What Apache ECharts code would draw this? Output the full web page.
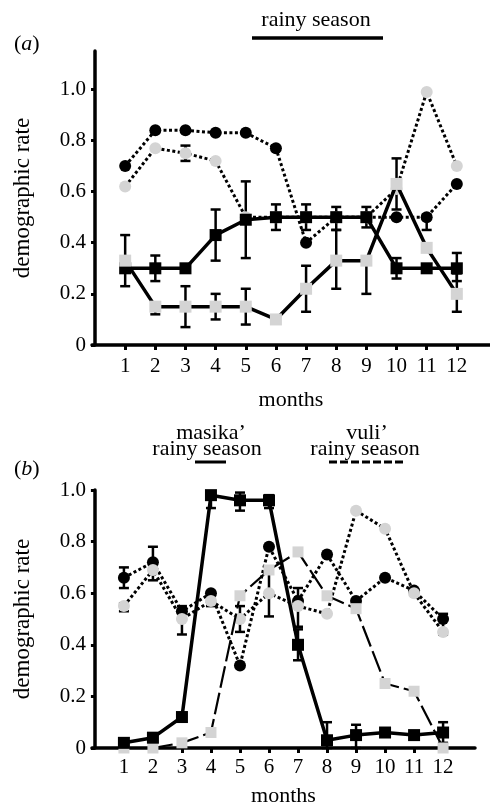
<!DOCTYPE html>
<html>
<head>
<meta charset="utf-8">
<script src="https://cdn.jsdelivr.net/npm/echarts@6/dist/echarts.min.js"></script>
<style>
  html, body { margin: 0; padding: 0; background: #fff; }
  #chart { width: 490px; height: 809px; }
</style>
</head>
<body>
<div id="chart"></div>
<script>
const months = [1, 2, 3, 4, 5, 6, 7, 8, 9, 10, 11, 12]
const yTicksA = [0, 0.2, 0.4, 0.6, 0.8, 1.0]
const yTicksB = [0, 0.2, 0.4, 0.6, 0.8, 1.0]

// panel (a)
const aBlackCircle = [0.70, 0.84, 0.84, 0.83, 0.83, 0.77, 0.40, 0.50, 0.50, 0.50, 0.50, 0.63]
const aGreyCircle = [0.62, 0.77, 0.75, 0.72, 0.50, 0.50, 0.50, 0.50, 0.50, 0.61, 0.99, 0.70]
const aBlackSquare = [0.30, 0.30, 0.30, 0.43, 0.49, 0.50, 0.50, 0.50, 0.50, 0.30, 0.30, 0.30]
const aGreySquare = [0.33, 0.15, 0.15, 0.15, 0.15, 0.10, 0.22, 0.33, 0.33, 0.63, 0.38, 0.20]
// error bars: [month, low, high]
const aErrors = [
  [1, 0.23, 0.43], [2, 0.25, 0.35], [4, 0.33, 0.53], [5, 0.34, 0.64], [6, 0.45, 0.55],
  [7, 0.45, 0.55], [8, 0.45, 0.54], [9, 0.46, 0.54], [10, 0.26, 0.34], [12, 0.25, 0.36],
  [2, 0.12, 0.15], [3, 0.07, 0.23], [4, 0.10, 0.20], [5, 0.08, 0.22], [7, 0.13, 0.31],
  [8, 0.22, 0.45], [9, 0.20, 0.33], [10, 0.53, 0.73], [12, 0.13, 0.28],
  [3, 0.72, 0.78], [11, 0.45, 0.51]
]

// panel (b)
const bBlackCircle = [0.66, 0.72, 0.53, 0.60, 0.32, 0.78, 0.57, 0.75, 0.57, 0.66, 0.61, 0.50]
const bGreyCircle = [0.55, 0.69, 0.50, 0.57, 0.50, 0.60, 0.55, 0.52, 0.92, 0.85, 0.60, 0.45]
const bBlackSquare = [0.02, 0.04, 0.12, 0.98, 0.96, 0.96, 0.40, 0.03, 0.05, 0.06, 0.05, 0.06]
const bGreySquare = [0.00, 0.00, 0.02, 0.06, 0.59, 0.69, 0.76, 0.59, 0.54, 0.25, 0.22, 0.00]
const bErrors = [
  [1, 0.62, 0.70], [2, 0.65, 0.78], [3, 0.44, 0.55], [4, 0.55, 0.60], [5, 0.45, 0.55],
  [6, 0.51, 0.69], [7, 0.47, 0.62], [12, 0.44, 0.52], [1, 0.53, 0.56],
  [4, 0.93, 0.99], [5, 0.92, 0.99], [6, 0.93, 0.98], [7, 0.34, 0.46],
  [8, 0.00, 0.10], [9, 0.00, 0.09], [10, 0.05, 0.07], [12, 0.02, 0.10]
]

const FONT = '"Liberation Serif", "DejaVu Serif", serif'
const GREY = '#d4d4d4'

const pairs = arr => arr.map((v, i) => [months[i], v])

const chart = echarts.init(document.getElementById('chart'))

const makeXAxis = (idx, labelMargin, nameGap) => ({
  gridIndex: idx,
  type: 'value',
  min: -0.1,
  max: 13.1,
  name: 'months',
  nameLocation: 'middle',
  nameGap: nameGap,
  nameTextStyle: { fontFamily: FONT, fontSize: 22, color: '#000' },
  axisLine: { onZero: false, lineStyle: { color: '#000', width: 3.5 } },
  axisTick: { show: true, customValues: months, length: 5, lineStyle: { color: '#000', width: 3 } },
  axisLabel: { customValues: months, margin: labelMargin, fontFamily: FONT, fontSize: 21, color: '#000' },
  splitLine: { show: false }
})

const makeYAxis = (idx, max, ticks) => ({
  gridIndex: idx,
  type: 'value',
  min: 0,
  max: max,
  name: 'demographic rate',
  nameLocation: 'middle',
  nameGap: 58,
  nameTextStyle: { fontFamily: FONT, fontSize: 23, color: '#000' },
  axisLine: { show: true, lineStyle: { color: '#000', width: 3.5 } },
  axisTick: { show: true, customValues: ticks, length: 4, lineStyle: { color: '#000', width: 3 } },
  axisLabel: {
    customValues: ticks,
    margin: 6,
    fontFamily: FONT,
    fontSize: 21,
    color: '#000',
    formatter: v => (v === 0 ? '0' : v.toFixed(1))
  },
  splitLine: { show: false }
})

const lineSeries = (idx, data, opts) => ({
  type: 'line',
  xAxisIndex: idx,
  yAxisIndex: idx,
  data: pairs(data),
  symbol: opts.symbol,
  symbolSize: opts.size || 12,
  itemStyle: { color: opts.color, borderWidth: 0 },
  lineStyle: { color: '#000', width: opts.width, type: opts.dash },
  z: opts.z,
  clip: false,
  animation: false
})

const errorSeries = (idx, data) => ({
  type: 'custom',
  xAxisIndex: idx,
  yAxisIndex: idx,
  data: data,
  z: 1,
  clip: false,
  animation: false,
  renderItem: (params, api) => {
    const lo = api.coord([api.value(0), api.value(1)])
    const hi = api.coord([api.value(0), api.value(2)])
    const w = 5
    const st = { stroke: '#000', lineWidth: 2.5 }
    return {
      type: 'group',
      children: [
        { type: 'line', shape: { x1: lo[0], y1: lo[1], x2: hi[0], y2: hi[1] }, style: st },
        { type: 'line', shape: { x1: lo[0] - w, y1: lo[1], x2: lo[0] + w, y2: lo[1] }, style: st },
        { type: 'line', shape: { x1: hi[0] - w, y1: hi[1], x2: hi[0] + w, y2: hi[1] }, style: st }
      ]
    }
  }
})

const label = (x, y, text) => ({
  type: 'text', x: x, y: y,
  style: { text: text, font: '22px ' + FONT, fill: '#000', align: 'center', verticalAlign: 'middle' }
})

const option = {
  backgroundColor: '#fff',
  animation: false,
  grid: [
    { left: 92, right: 0, top: 51, bottom: 464 },
    { left: 92, right: 15, top: 490, bottom: 61 }
  ],
  xAxis: [makeXAxis(0, 11, 44), makeXAxis(1, 9, 37)],
  yAxis: [makeYAxis(0, 1.15, yTicksA), makeYAxis(1, 1.0, yTicksB)],
  series: [
    errorSeries(0, aErrors),
    lineSeries(0, aBlackCircle, { symbol: 'circle', color: '#000', width: 3, dash: [3, 2.5], z: 3 }),
    lineSeries(0, aGreyCircle, { symbol: 'circle', color: GREY, width: 3, dash: [3, 2.5], z: 4 }),
    lineSeries(0, aBlackSquare, { symbol: 'rect', color: '#000', width: 3.5, dash: 'solid', z: 5 }),
    lineSeries(0, aGreySquare, { symbol: 'rect', color: GREY, width: 3.5, dash: 'solid', z: 6 }),

    errorSeries(1, bErrors),
    lineSeries(1, bBlackCircle, { symbol: 'circle', color: '#000', width: 3, dash: [3, 2.5], z: 3 }),
    lineSeries(1, bGreyCircle, { symbol: 'circle', color: GREY, width: 3, dash: [3, 2.5], z: 4 }),
    lineSeries(1, bBlackSquare, { symbol: 'rect', color: '#000', width: 3.5, dash: 'solid', z: 6 }),
    lineSeries(1, bGreySquare, { symbol: 'rect', size: 11, color: GREY, width: 2.2, dash: [22, 5], z: 5 })
  ],
  graphic: [
    {
      type: 'text', left: 14, top: 33,
      style: {
        text: '({i|a})', font: '22px ' + FONT, fill: '#000',
        rich: { i: { fontStyle: 'italic', fontFamily: FONT, fontSize: 22 } }
      }
    },
    label(316, 20, 'rainy season'),
    { type: 'line', shape: { x1: 252, y1: 38, x2: 383, y2: 38 }, style: { stroke: '#000', lineWidth: 3.5 } },

    {
      type: 'text', left: 14, top: 458,
      style: {
        text: '({i|b})', font: '22px ' + FONT, fill: '#000',
        rich: { i: { fontStyle: 'italic', fontFamily: FONT, fontSize: 22 } }
      }
    },
    label(211, 433, 'masika’'),
    label(207, 449, 'rainy season'),
    { type: 'line', shape: { x1: 195, y1: 462, x2: 226, y2: 462 }, style: { stroke: '#000', lineWidth: 3 } },
    label(367, 433, 'vuli’'),
    label(365, 449, 'rainy season'),
    { type: 'line', shape: { x1: 329, y1: 462, x2: 406, y2: 462 }, style: { stroke: '#000', lineWidth: 3, lineDash: [8, 3] } }
  ]
}

chart.setOption(option)
</script>
</body>
</html>
